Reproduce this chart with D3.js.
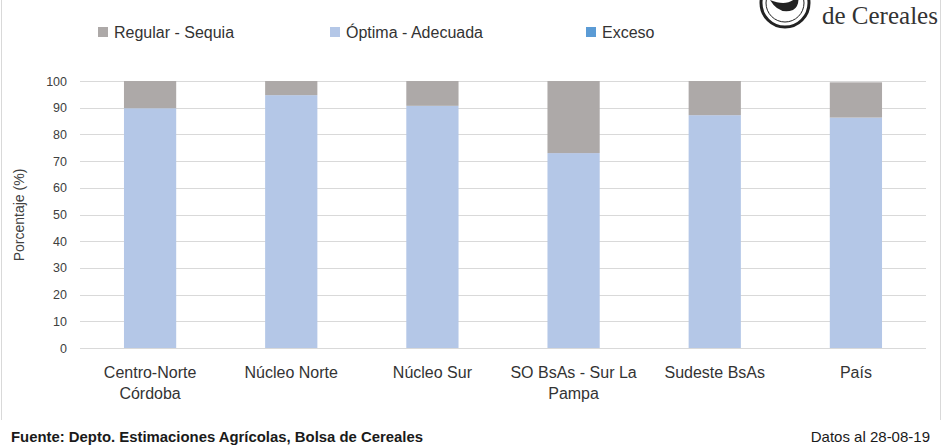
<!DOCTYPE html>
<html>
<head>
<meta charset="utf-8">
<script src="https://cdn.jsdelivr.net/npm/d3@7"></script>
<style>
  body { margin: 0; background: #fff; }
  svg text { font-family: "Liberation Sans", Arial, sans-serif; }
</style>
</head>
<body>
<svg id="chart" width="948" height="447"></svg>
<script>
// data
var regiones = [["Centro-Norte", "Córdoba"], ["Núcleo Norte"], ["Núcleo Sur"], ["SO BsAs - Sur La", "Pampa"], ["Sudeste BsAs"], ["País"]];
var optima = [89.8, 94.7, 90.7, 73.0, 87.2, 86.3];
var regular = [10.2, 5.3, 9.3, 27.0, 12.8, 13.2];
var exceso = [0, 0, 0, 0, 0, 0];
var serieNombres = ["Regular - Sequia", "Óptima - Adecuada", "Exceso"];
var serieColores = ["#ada9a8", "#b4c7e7", "#5b9bd5"];
var yTicks = [0, 10, 20, 30, 40, 50, 60, 70, 80, 90, 100];

var svg = d3.select("#chart");

// frame lines of the original slide
svg.append("line").attr("x1", 1.5).attr("x2", 1.5).attr("y1", 0).attr("y2", 420)
  .attr("stroke", "#d9d9d9");
svg.append("line").attr("x1", 940.5).attr("x2", 940.5).attr("y1", 0).attr("y2", 420)
  .attr("stroke", "#d9d9d9");

var x = d3.scaleBand()
  .domain(d3.range(regiones.length))
  .range([79.5, 926.5])
  .paddingInner(0.63)
  .paddingOuter(0.315);

var y = d3.scaleLinear().domain([0, 100]).range([348, 81]);

// gridlines
svg.append("g").selectAll("line")
  .data(yTicks)
  .enter().append("line")
  .attr("x1", 80).attr("x2", 926)
  .attr("y1", function(d) { return Math.round(y(d)) + 0.5; })
  .attr("y2", function(d) { return Math.round(y(d)) + 0.5; })
  .attr("stroke", "#d9d9d9")
  .attr("stroke-width", 1);

// y axis labels
var yAxis = d3.axisLeft(y).tickValues(yTicks).tickSize(0).tickPadding(0);
var gy = svg.append("g").attr("transform", "translate(67,0)").call(yAxis);
gy.select(".domain").remove();
gy.selectAll("text")
  .attr("fill", "#404040")
  .style("font-size", "12.5px")
  .style("font-family", "Liberation Sans, Arial, sans-serif");

svg.append("text")
  .attr("transform", "translate(24,215) rotate(-90)")
  .attr("text-anchor", "middle")
  .attr("fill", "#404040")
  .style("font-size", "14px")
  .text("Porcentaje (%)");

// stacked bars
var filas = regiones.map(function(r, i) {
  return { i: i, optima: optima[i], regular: regular[i], exceso: exceso[i] };
});
var stack = d3.stack().keys(["optima", "regular", "exceso"]);
var capas = stack(filas);
var colorPorCapa = [serieColores[1], serieColores[0], serieColores[2]];

svg.append("g").selectAll("g")
  .data(capas)
  .enter().append("g")
  .attr("fill", function(d, k) { return colorPorCapa[k]; })
  .selectAll("rect")
  .data(function(d) { return d; })
  .enter().append("rect")
  .attr("x", function(d) { return x(d.data.i); })
  .attr("width", x.bandwidth())
  .attr("y", function(d) { return y(d[1]); })
  .attr("height", function(d) { return y(d[0]) - y(d[1]); });

// category labels
var cat = svg.append("g").selectAll("text")
  .data(regiones)
  .enter().append("text")
  .attr("text-anchor", "middle")
  .attr("fill", "#333")
  .style("font-size", "16px")
  .attr("x", function(d, i) { return x(i) + x.bandwidth() / 2; })
  .attr("y", 378);
cat.selectAll("tspan")
  .data(function(d) { return d; })
  .enter().append("tspan")
  .attr("x", function() { return d3.select(this.parentNode).attr("x"); })
  .attr("dy", function(d, j) { return j === 0 ? 0 : 21; })
  .text(function(d) { return d; });

// legend
var legX = [98, 330, 586];
var leg = svg.append("g").selectAll("g")
  .data(serieNombres)
  .enter().append("g")
  .attr("transform", function(d, i) { return "translate(" + legX[i] + ",27)"; });
leg.append("rect")
  .attr("width", 10).attr("height", 10)
  .attr("fill", function(d, i) { return serieColores[i]; });
leg.append("text")
  .attr("x", 16).attr("y", 11)
  .attr("fill", "#333")
  .style("font-size", "16px")
  .text(function(d) { return d; });

// logo (cut off at the top)
var logo = svg.append("g").attr("transform", "translate(785,3)");
logo.append("circle").attr("r", 24).attr("fill", "none").attr("stroke", "#222").attr("stroke-width", 3);
logo.append("circle").attr("r", 19).attr("fill", "none").attr("stroke", "#222").attr("stroke-width", 1);
logo.append("path").attr("d", "M-15,-3 Q-6,12 8,7 Q15,3 13,-8 Q4,5 -15,-3 Z").attr("fill", "#222");
svg.append("text").attr("x", 822).attr("y", 24)
  .style("font-family", "Liberation Serif, DejaVu Serif, serif")
  .style("font-size", "25px").attr("fill", "#333")
  .text("de Cereales");

// footer
svg.append("text").attr("x", 11).attr("y", 442)
  .attr("fill", "#1a1a1a")
  .style("font-size", "15px").style("font-weight", "bold")
  .attr("textLength", 412)
  .attr("lengthAdjust", "spacingAndGlyphs")
  .text("Fuente: Depto. Estimaciones Agrícolas, Bolsa de Cereales");
svg.append("text").attr("x", 930).attr("y", 442)
  .attr("text-anchor", "end")
  .attr("fill", "#1a1a1a")
  .style("font-size", "15px")
  .text("Datos al 28-08-19");
</script>
</body>
</html>
